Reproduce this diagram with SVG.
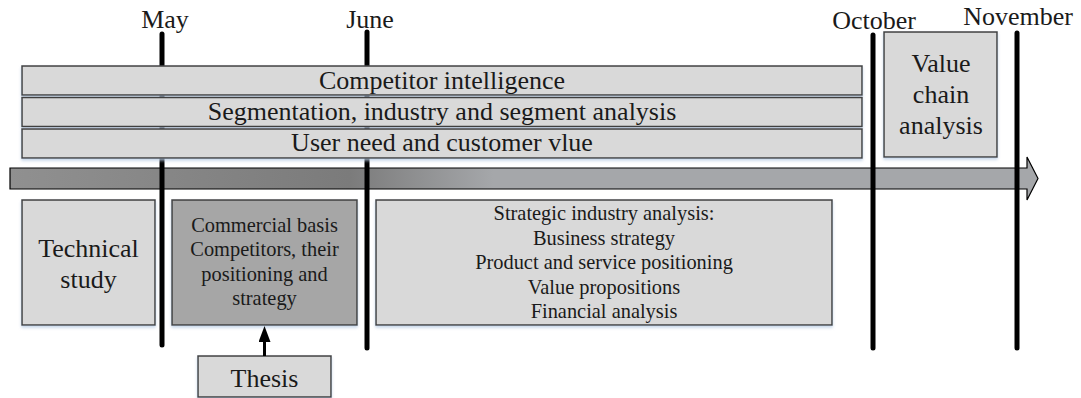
<svg xmlns="http://www.w3.org/2000/svg" width="1081" height="398" viewBox="0 0 1081 398" font-family="'Liberation Serif', 'Times New Roman', serif">
<style>
text{font-family:'Liberation Serif','Times New Roman',serif;fill:#1a1a1a;text-anchor:middle}
.box{fill:#d9d9d9;stroke:#404040;stroke-width:1.5}
.dark{fill:#a6a6a6}
.vl{stroke:#000;stroke-width:5;stroke-linecap:round;fill:none}
.big{font-size:26px}
.mid{font-size:20.4px}
.mon{font-size:26px}
</style>
<defs>
<linearGradient id="ag" x1="10" y1="0" x2="1038" y2="0" gradientUnits="userSpaceOnUse">
<stop offset="0" stop-color="#909090"/>
<stop offset="0.33" stop-color="#7b7b7b"/>
<stop offset="0.47" stop-color="#a5a7aa"/>
<stop offset="1" stop-color="#a5a7aa"/>
</linearGradient>
<filter id="sh" x="-5%" y="-10%" width="110%" height="130%">
<feDropShadow dx="0" dy="2" stdDeviation="1.5" flood-color="#b8cce4" flood-opacity="0.8"/>
</filter>
<marker id="ah" markerWidth="16" markerHeight="12" refX="0" refY="6" orient="auto" markerUnits="userSpaceOnUse" viewBox="0 0 16 12">
<path d="M0,0 L16,6 L0,12 Z" fill="#000"/>
</marker>
</defs>
<g id="timeline-arrow">
<polygon points="10,168 1027,168 1027,157 1038,178.5 1027,200 1027,189 10,189" fill="url(#ag)" stroke="#000" stroke-width="1.2"/>
</g>
<g id="month-lines">
<line class="vl" x1="162" y1="34" x2="162" y2="345"/>
<line class="vl" x1="367" y1="32" x2="367" y2="348"/>
<line class="vl" x1="873" y1="35" x2="873" y2="348"/>
<line class="vl" x1="1017" y1="33" x2="1017" y2="348"/>
</g>
<g id="month-labels">
<text class="mon" x="165" y="28">May</text>
<text class="mon" x="370" y="28">June</text>
<text class="mon" x="874" y="29">October</text>
<text class="mon" x="1018" y="25">November</text>
</g>
<g id="competitor-intelligence">
<rect class="box" filter="url(#sh)" x="22" y="66" width="840" height="29"/>
<text class="big" x="442" y="88.5">Competitor intelligence</text>
</g>
<g id="segmentation">
<rect class="box" filter="url(#sh)" x="22" y="97.5" width="840" height="29"/>
<text class="big" x="442" y="119.5">Segmentation, industry and segment analysis</text>
</g>
<g id="user-need">
<rect class="box" filter="url(#sh)" x="22" y="129" width="840" height="29"/>
<text class="big" x="442" y="150.5">User need and customer vlue</text>
</g>
<g id="value-chain">
<rect class="box" filter="url(#sh)" x="884" y="32" width="113" height="125"/>
<text class="big" x="941" y="72">Value</text>
<text class="big" x="941" y="103">chain</text>
<text class="big" x="941" y="134">analysis</text>
</g>
<g id="technical-study">
<rect class="box" filter="url(#sh)" x="22" y="200" width="133" height="125"/>
<text class="big" x="88.5" y="257">Technical</text>
<text class="big" x="88.5" y="288">study</text>
</g>
<g id="commercial-basis">
<rect class="box dark" filter="url(#sh)" x="172" y="200" width="185" height="125"/>
<text class="mid" x="264.5" y="231.5">Commercial basis</text>
<text class="mid" x="264.5" y="256">Competitors, their</text>
<text class="mid" x="264.5" y="280.5">positioning and</text>
<text class="mid" x="264.5" y="305">strategy</text>
</g>
<g id="strategic-industry-analysis">
<rect class="box" filter="url(#sh)" x="376" y="200" width="456" height="125"/>
<text class="mid" x="604" y="220">Strategic industry analysis:</text>
<text class="mid" x="604" y="244.5">Business strategy</text>
<text class="mid" x="604" y="269">Product and service positioning</text>
<text class="mid" x="604" y="293.5">Value propositions</text>
<text class="mid" x="604" y="318">Financial analysis</text>
</g>
<g id="thesis">
<rect class="box" filter="url(#sh)" x="198" y="356" width="133" height="41"/>
<text class="big" x="264.5" y="386.5">Thesis</text>
</g>
<g id="connectors">
<line x1="264.5" y1="356" x2="264.5" y2="342" stroke="#000" stroke-width="3" marker-end="url(#ah)"/>
</g>
</svg>
